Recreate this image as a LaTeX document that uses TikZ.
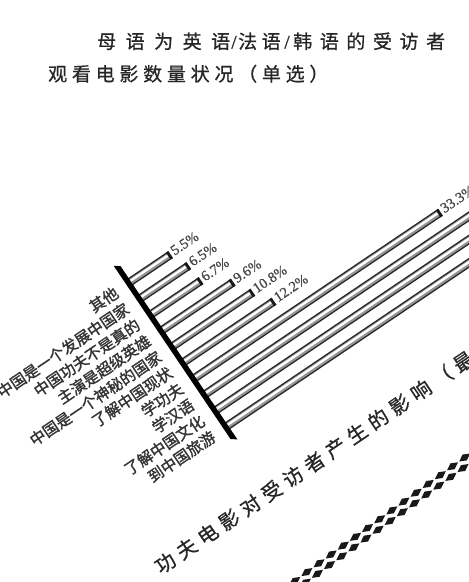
\documentclass[tikz,border=0pt]{standalone}
\usepackage{fontspec}
\setmainfont{Liberation Serif}
\newfontfamily\cjk{Noto Sans CJK SC}
\newfontfamily\cjkb[FakeBold=1.4]{Noto Sans CJK SC}
\newfontfamily\cjkt[FakeBold=0.7]{Noto Sans CJK SC}
\newfontfamily\numf[FakeBold=0.8]{Liberation Serif}
\newlength\lsgap
\makeatletter
\def\ls#1#2{\setlength\lsgap{#1}\ls@loop#2\relax}
\def\ls@loop#1{\ifx#1\relax\else#1\hspace{\lsgap}\expandafter\ls@loop\fi}
\makeatother
\newcommand\drawbar[2]{%
  \draw[line width=8.4pt, black!85] (-2,#1) -- (#2,#1);
  \draw[line width=5.6pt, black!42] (-2,#1) -- (#2,#1);
  \draw[line width=2.4pt, white] (-2,#1-0.7) -- (#2,#1-0.7);
  \fill[black!90] (#2-2.8,#1-4.2) rectangle (#2,#1+4.2);
}
\begin{document}
\begin{tikzpicture}[x=1pt,y=-1pt,
  lbl/.style={font=\cjkb\fontsize{15.5}{16}\selectfont, text=black!80, inner sep=0pt, anchor=east},
  pct/.style={font=\numf\fontsize{14.5}{15}\selectfont, text=black!72, inner sep=0pt, anchor=west},
  ttl/.style={font=\cjkt\fontsize{19}{19}\selectfont, text=black!85, inner sep=0pt, anchor=base west},
  sl/.style={font=\numf\fontsize{19}{19}\selectfont, text=black!85, inner sep=0pt, anchor=base},
  diam/.style={fill=black!90}]
\useasboundingbox (0,0) rectangle (469,582);
\clip (0,0) rectangle (469,582);
\fill[white] (0,0) rectangle (469,582);
% title
\node[ttl] (t1a) at (97,48.5) {\ls{9.5pt}{母语为英语}};
\node[sl] (s1) at (234,48.5) {/};
\node[ttl] (t1b) at (238,48.5) {\ls{4.5pt}{法语}};
\node[sl] (s2) at (287,48.5) {/};
\node[ttl] (t1c) at (293,48.5) {\ls{7.6pt}{韩语的受访者}};
\node[ttl] (t2) at (48,81) {\ls{4.75pt}{观看电影数量状况（单选）}};
% chart
\begin{scope}[shift={(123,268)}, rotate=34, transform shape]
  \foreach \v [count=\i from 0] in {5.5,6.5,6.7,9.6,10.8,12.2,33.3,40,45,50}{
    \pgfmathsetmacro\yy{15.5+19.3*\i}
    \pgfmathsetmacro\LL{-2+8.9*\v}
    \drawbar{\yy}{\LL}
  }
  \foreach \v [count=\i from 0] in {5.5,6.5,6.7,9.6,10.8,12.2,33.3}{
    \pgfmathsetmacro\yy{15.5+19.3*\i}
    \pgfmathsetmacro\LL{-2+8.9*\v}
    \node[pct] (p\i) at (\LL+2.5,\yy-1.5) {\v\%};
  }
  \foreach \t [count=\i from 0] in {其他,中国是一个发展中国家,中国功夫不是真的,主演是超级英雄,中国是一个神秘的国家,了解中国现状,学功夫,学汉语,了解中国文化,到中国旅游}{
    \node[lbl] (l\i) at (-18,15.5+19.3*\i) {\t};
  }
  \fill[black] (-6.5,-7) -- (-1,-3) -- (-1,206) -- (-6.5,202) -- cycle;
\end{scope}
% bottom title
\node[anchor=west, rotate=34, inner sep=0pt, font=\cjkt\fontsize{20}{20}\selectfont, text=black!85] (bt) at (156.7,568.6) {\ls{5.7pt}{功夫电影对受访者产生的影响（最多}};
% checkered band
\begin{scope}[shift={(297,584)}, rotate=36]
  \foreach \k in {-2,...,17}{
    \fill[diam] (\k*15-6.8,-3.8) -- (\k*15,-7.4) -- (\k*15+6.8,-3.8) -- (\k*15,-0.2) -- cycle;
    \fill[diam] (\k*15+0.7,3.8) -- (\k*15+7.5,0.2) -- (\k*15+14.3,3.8) -- (\k*15+7.5,7.4) -- cycle;
  }
\end{scope}
\end{tikzpicture}
\end{document}
